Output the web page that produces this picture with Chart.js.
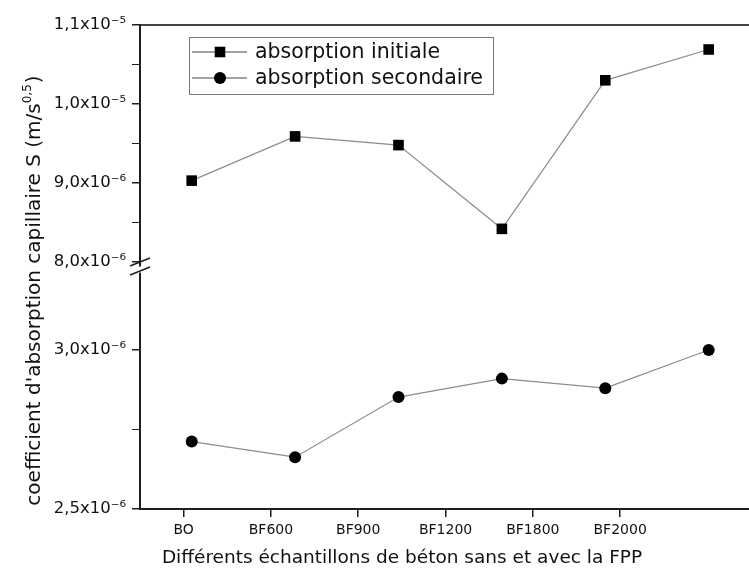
<!DOCTYPE html>
<html>
<head>
<meta charset="utf-8">
<title>Coefficient d'absorption capillaire</title>
<script src="https://cdn.jsdelivr.net/npm/chart.js@4.4.0/dist/chart.umd.min.js"></script>
<style>
    html, body { margin: 0; padding: 0; background: #ffffff; }
    #wrap { width: 749px; height: 578px; }
</style>
</head>
<body>
<div id="wrap"><canvas id="myChart" width="749" height="578"></canvas></div>
<script>
// donnees
const echantillons = ['BO', 'BF600', 'BF900', 'BF1200', 'BF1800', 'BF2000'];
const absorptionInitiale = [9.03e-6, 9.59e-6, 9.48e-6, 8.42e-6, 1.030e-5, 1.069e-5];
const absorptionSecondaire = [2.712e-6, 2.663e-6, 2.852e-6, 2.910e-6, 2.880e-6, 3.0e-6];
const ticksHaut = [8.0e-6, 8.5e-6, 9.0e-6, 9.5e-6, 1.0e-5, 1.05e-5, 1.1e-5];
const ticksBas = [2.5e-6, 2.75e-6, 3.0e-6];

const FONT = "'DejaVu Sans', sans-serif";
const INK = '#111111';
const AXE = '#1e1e1e';

const exposants = {'-': '\u207B', '0': '\u2070', '1': '\u00B9', '2': '\u00B2', '3': '\u00B3',
    '4': '\u2074', '5': '\u2075', '6': '\u2076', '7': '\u2077', '8': '\u2078', '9': '\u2079'};

function formatSci(v) {
    const e = Math.floor(Math.log10(v) + 1e-9);
    const m = v / Math.pow(10, e);
    const exp = String(e).split('').map(c => exposants[c]).join('');
    return m.toFixed(1).replace('.', ',') + 'x10' + exp;
}

function estMajeur(v, pas) {
    const r = v / pas;
    return Math.abs(r - Math.round(r)) < 1e-6;
}

function sansMarge(scale) {
    scale.paddingLeft = 0;
    scale.paddingRight = 0;
}

// coupure de l'axe, titres et legende
const decor = {
    id: 'decor',
    afterDraw(chart) {
        const ctx = chart.ctx;
        const area = chart.chartArea;
        const b = chart.scales.yHaut.bottom;
        const xa = area.left;

        ctx.save();
        // coupure
        ctx.fillStyle = '#ffffff';
        ctx.beginPath();
        ctx.moveTo(xa - 4, b + 1);
        ctx.lineTo(xa + 4, b - 2);
        ctx.lineTo(xa + 4, b + 4);
        ctx.lineTo(xa - 4, b + 7);
        ctx.closePath();
        ctx.fill();
        ctx.strokeStyle = AXE;
        ctx.lineWidth = 1.5;
        ctx.beginPath();
        ctx.moveTo(xa - 10, b - 1);
        ctx.lineTo(xa + 10, b - 9);
        ctx.moveTo(xa - 10, b + 8);
        ctx.lineTo(xa + 10, b);
        ctx.stroke();

        // titre axe x
        ctx.fillStyle = INK;
        ctx.font = '18.5px ' + FONT;
        ctx.textAlign = 'center';
        ctx.textBaseline = 'alphabetic';
        ctx.fillText('Diff\u00e9rents \u00e9chantillons de b\u00e9ton sans et avec la FPP', 402, 563);

        // titre axe y avec exposant
        const t1 = "coefficient d'absorption capillaire S (m/s";
        const t2 = '0,5';
        const t3 = ')';
        ctx.translate(40, 291);
        ctx.rotate(-Math.PI / 2);
        ctx.textAlign = 'left';
        ctx.font = '20px ' + FONT;
        const w1 = ctx.measureText(t1).width;
        const w3 = ctx.measureText(t3).width;
        ctx.font = '12px ' + FONT;
        const w2 = ctx.measureText(t2).width;
        let x0 = -(w1 + w2 + w3) / 2;
        ctx.font = '20px ' + FONT;
        ctx.fillText(t1, x0, 0);
        ctx.font = '12px ' + FONT;
        ctx.fillText(t2, x0 + w1, -9);
        ctx.font = '20px ' + FONT;
        ctx.fillText(t3, x0 + w1 + w2 + 1, 0);
        ctx.restore();

        // legende
        ctx.save();
        ctx.strokeStyle = '#7a7a7a';
        ctx.lineWidth = 1;
        ctx.strokeRect(189.5, 37.5, 304, 57);
        const rangs = [52, 78];
        chart.data.datasets.forEach((ds, i) => {
            const y = rangs[i];
            ctx.strokeStyle = '#444444';
            ctx.lineWidth = 1.2;
            ctx.beginPath();
            ctx.moveTo(192, y);
            ctx.lineTo(247, y);
            ctx.stroke();
            ctx.fillStyle = '#000000';
            if (ds.pointStyle === 'rect') {
                ctx.fillRect(220 - 5.3, y - 5.3, 10.6, 10.6);
            } else {
                ctx.beginPath();
                ctx.arc(220, y, 6, 0, Math.PI * 2);
                ctx.fill();
            }
            ctx.fillStyle = INK;
            ctx.font = '20.5px ' + FONT;
            ctx.textAlign = 'left';
            ctx.textBaseline = 'middle';
            ctx.fillText(ds.label, 255, y + 1);
        });
        ctx.restore();
    }
};

const ctx = document.getElementById('myChart').getContext('2d');

const myChart = new Chart(ctx, {
    type: 'line',
    data: {
        datasets: [{
            label: 'absorption initiale',
            data: absorptionInitiale.map((v, i) => ({x: i, y: v})),
            xAxisID: 'xp',
            yAxisID: 'yHaut',
            borderColor: '#8c8c8c',
            borderWidth: 1.2,
            pointStyle: 'rect',
            pointRadius: 7.5,
            pointBorderWidth: 0,
            pointBackgroundColor: '#000000',
            pointBorderColor: '#000000',
            tension: 0,
            clip: false
        }, {
            label: 'absorption secondaire',
            data: absorptionSecondaire.map((v, i) => ({x: i, y: v})),
            xAxisID: 'xp',
            yAxisID: 'yBas',
            borderColor: '#8c8c8c',
            borderWidth: 1.2,
            pointStyle: 'circle',
            pointRadius: 6,
            pointBorderWidth: 0,
            pointBackgroundColor: '#000000',
            pointBorderColor: '#000000',
            tension: 0,
            clip: false
        }]
    },
    options: {
        responsive: false,
        animation: false,
        devicePixelRatio: 1,
        layout: { padding: 0, autoPadding: false },
        plugins: {
            legend: { display: false },
            tooltip: { enabled: false }
        },
        scales: {
            x: {
                type: 'linear',
                position: 'bottom',
                min: -0.5,
                max: 6.476,
                afterBuildTicks: function(scale) {
                    scale.ticks = echantillons.map((c, i) => ({value: i}));
                },
                afterFit: function(scale) { scale.height = 69; sansMarge(scale); },
                ticks: {
                    callback: function(value, index) { return echantillons[index]; },
                    font: { family: FONT, size: 14 },
                    color: INK,
                    padding: 5,
                    maxRotation: 0,
                    autoSkip: false
                },
                grid: { display: true, drawOnChartArea: false, drawTicks: true, tickLength: 8, color: AXE, lineWidth: 1.5 },
                border: { display: true, color: AXE, width: 2 }
            },
            xp: { type: 'linear', display: false, min: -0.5, max: 5.39 },
            xTop: {
                type: 'linear',
                position: 'top',
                min: 0,
                max: 1,
                afterFit: function(scale) { scale.height = 25; sansMarge(scale); },
                ticks: { display: false },
                grid: { display: false, drawTicks: false },
                border: { display: true, color: '#444444', width: 2 }
            },
            yBas: {
                type: 'linear',
                position: 'left',
                stack: 'axeY',
                stackWeight: 1,
                min: 2.5e-6,
                max: 3.261e-6,
                afterBuildTicks: function(scale) {
                    scale.ticks = ticksBas.map(v => ({value: v}));
                },
                afterFit: function(scale) { scale.width = 140; },
                ticks: {
                    callback: v => estMajeur(v, 5e-7) ? formatSci(v) : '',
                    font: { family: FONT, size: 16.5 },
                    color: INK,
                    padding: 6
                },
                grid: {
                    display: true, drawOnChartArea: false, drawTicks: true, tickLength: 8, color: AXE,
                    lineWidth: c => (c.tick && estMajeur(c.tick.value, 5e-7)) ? 1.5 : 1
                },
                border: { display: true, color: AXE, width: 2 }
            },
            yHaut: {
                type: 'linear',
                position: 'left',
                stack: 'axeY',
                stackWeight: 1,
                min: 7.937e-6,
                max: 1.1e-5,
                afterBuildTicks: function(scale) {
                    scale.ticks = ticksHaut.map(v => ({value: v}));
                },
                afterFit: function(scale) { scale.width = 140; },
                ticks: {
                    callback: v => estMajeur(v, 1e-6) ? formatSci(v) : '',
                    font: { family: FONT, size: 16.5 },
                    color: INK,
                    padding: 6
                },
                grid: {
                    display: true, drawOnChartArea: false, drawTicks: true, tickLength: 8, color: AXE,
                    lineWidth: c => (c.tick && estMajeur(c.tick.value, 1e-6)) ? 1.5 : 1
                },
                border: { display: true, color: AXE, width: 2 }
            }
        }
    },
    plugins: [decor]
});
</script>
</body>
</html>
